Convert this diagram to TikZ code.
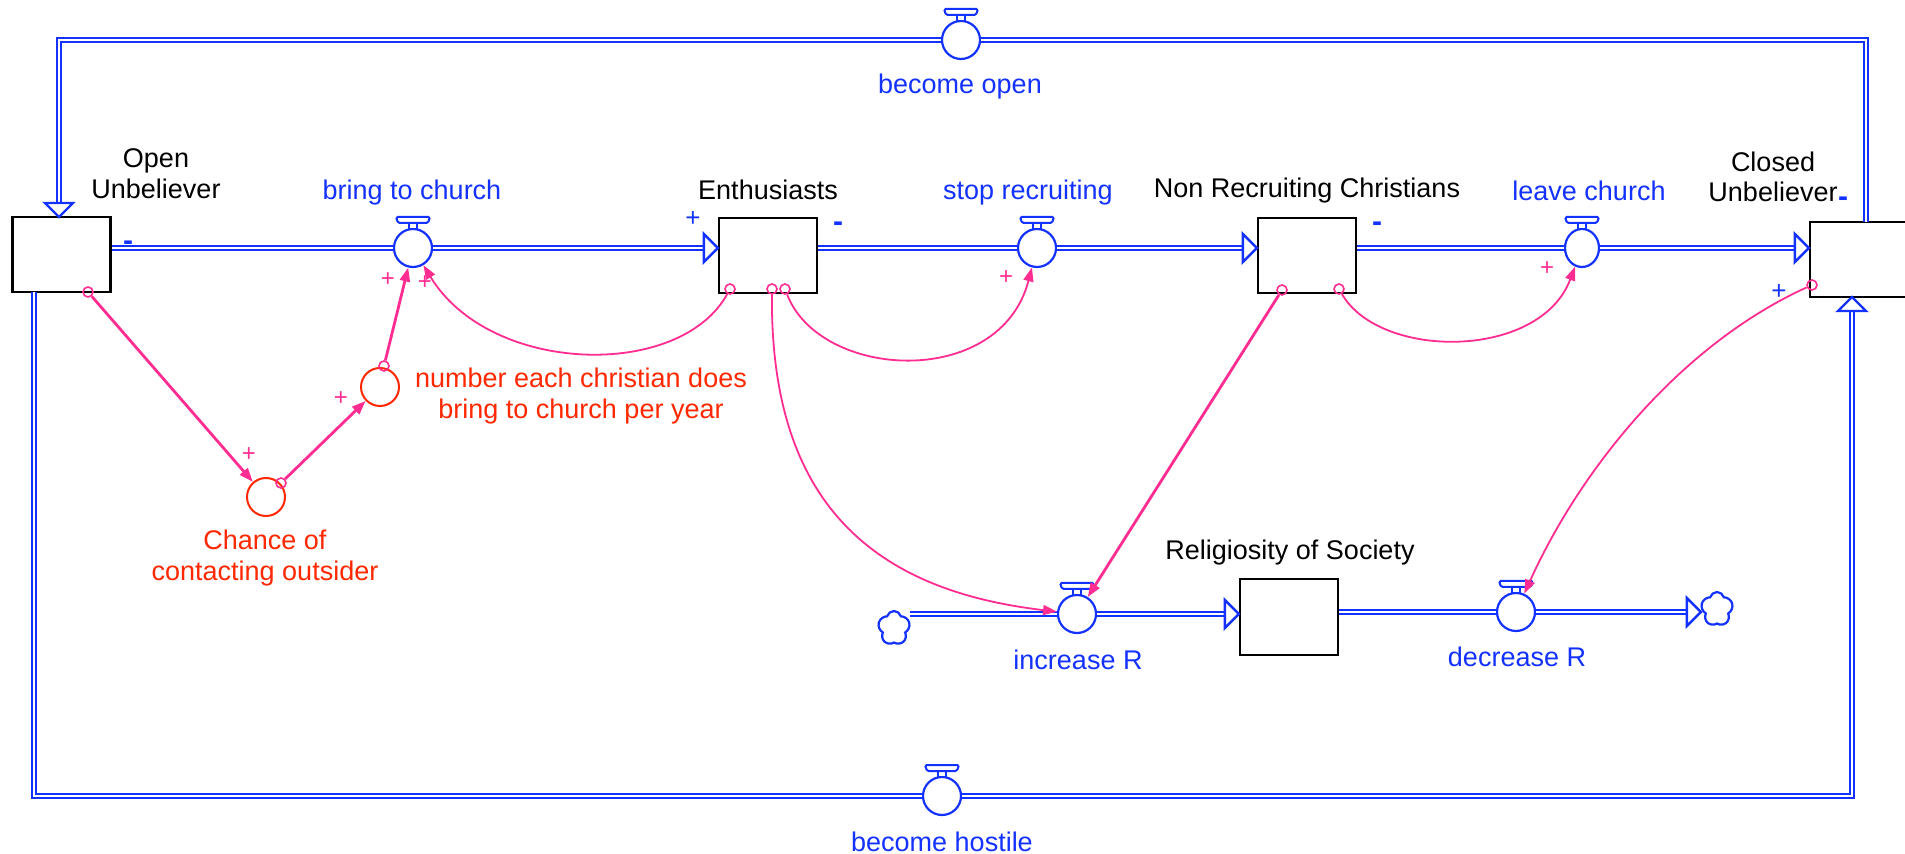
\documentclass[tikz,border=0pt]{standalone}
\usepackage{fontspec}
\setmainfont{Liberation Sans}
\usetikzlibrary{arrows.meta,shapes.geometric,shapes.symbols}
\definecolor{fblue}{RGB}{20,50,255}
\definecolor{lpink}{RGB}{255,45,145}
\definecolor{ared}{RGB}{255,40,0}
\newcommand\valvehandle[1]{%
  \draw[fblue, line width=1pt, fill=white] ([shift={(-4,-25)}]#1.center) rectangle ([shift={(4,-19)}]#1.center);
  \draw[fblue, line width=1pt, fill=white, rounded corners=0.8pt] ([shift={(-15,-25)}]#1.center) -- ([shift={(15,-25)}]#1.center) -- ([shift={(17,-31)}]#1.center) -- ([shift={(-17,-31)}]#1.center) -- cycle;
}
\begin{document}
\begin{tikzpicture}[x=0.5pt,y=-0.5pt,
  every node/.style={font=\fontsize{13.5}{15.5}\selectfont},
  stockbox/.style={draw=black, line width=1.15pt, rectangle, minimum width=49pt, minimum height=37.5pt, inner sep=0pt},
  valvec/.style={circle, draw=fblue, line width=1.1pt, fill=white, minimum size=19pt, inner sep=0pt},
  valvee/.style={ellipse, draw=fblue, line width=1.1pt, fill=white, minimum width=17pt, minimum height=19pt, inner sep=0pt},
  auxc/.style={circle, draw=ared, line width=1pt, minimum size=19pt, inner sep=0pt},
  pipe/.style={draw=fblue, line width=1.1pt, double=white, double distance=1pt},
  flowlbl/.style={text=fblue},
  stocklbl/.style={text=black, align=center},
  auxlbl/.style={text=ared, align=center},
  linkc/.style={draw=lpink, line width=0.9pt, -{Triangle[length=7pt,width=5pt]}},
  tlinkc/.style={linkc, line width=1.4pt},
  linkorig/.style={circle, draw=lpink, line width=0.8pt, minimum size=5pt, inner sep=0pt},
  lsign/.style={text=lpink, font=\fontsize{12}{12}\selectfont, inner sep=0pt},
  fsign/.style={text=fblue, font=\fontsize{13}{13}\selectfont, inner sep=0pt},
  msign/.style={text=fblue, font=\bfseries\fontsize{15}{15}\selectfont, inner sep=0pt},
  cloudnode/.style={cloud, cloud puffs=5, aspect=1, draw=fblue, line width=1.1pt, fill=white, minimum width=16pt, minimum height=17pt, inner sep=0pt},
  pipeR/.pic={\draw[fblue, line width=1.2pt, fill=white, line join=miter] (0,0) -- (-14,-14) -- (-14,14) -- cycle;},
  pipeD/.pic={\draw[fblue, line width=1.2pt, fill=white, line join=miter] (0,0) -- (-14,-14) -- (14,-14) -- cycle;},
  pipeU/.pic={\draw[fblue, line width=1.2pt, fill=white, line join=miter] (0,0) -- (-14,14) -- (14,14) -- cycle;}
]
\fill[white] (0,0) rectangle (1905,854);
\clip (0,0) rectangle (1905,854);

% stocks
\node[stockbox] (OU) at (61.5,254.5) {};
\node[stockbox] (Ent) at (768,255.5) {};
\node[stockbox] (NRC) at (1307,255.5) {};
\node[stockbox] (CU) at (1859,259.5) {};
\node[stockbox, minimum height=38pt] (RS) at (1289,617) {};

\node[stocklbl] (OUl) at (156,174) {Open\\Unbeliever};
\node[stocklbl] (Entl) at (768,190) {Enthusiasts};
\node[stocklbl] (NRCl) at (1307,191) {Non Recruiting Christians};
\node[stocklbl, font=\fontsize{13.5}{15}\selectfont] (CUl) at (1773,177) {Closed\\Unbeliever};
\node[stocklbl] (RSl) at (1290,553) {Religiosity of Society};

% valves
\node[valvec] (bc) at (413,248) {};
\node[valvec] (sr) at (1037,248) {};
\node[valvee] (lc) at (1582,248) {};
\node[valvec] (bo) at (961,40) {};
\node[valvec] (bh) at (942,796) {};
\node[valvec] (ir) at (1077,614) {};
\node[valvec] (dr) at (1516,612) {};

\node[flowlbl] (bcl) at (412,193) {bring to church};
\node[flowlbl] (srl) at (1028,193) {stop recruiting};
\node[flowlbl] (lcl) at (1589,191) {leave church};
\node[flowlbl] (bol) at (960,87) {become open};
\node[flowlbl] (bhl) at (942,842) {become hostile};
\node[flowlbl] (irl) at (1078,660) {increase R};
\node[flowlbl] (drl) at (1517,657) {decrease R};

% clouds
\node[cloudnode] (cl1) at (894,628) {};
\node[cloudnode] (cl2) at (1717,609) {};

% auxiliaries
\node[auxc] (nb) at (380,387) {};
\node[auxc] (ch) at (266,497) {};
\node[auxlbl] (nbl) at (581,396) {number each christian does\\bring to church per year};
\node[auxlbl] (chl) at (265,558) {Chance of\\contacting outsider};

% pipe end points
\coordinate (cuTop) at (1866,222);
\coordinate (cuBot) at (1852,297);
\coordinate (ouTop) at (59,217);
\coordinate (ouBot) at (34,292);

% pipes
\draw[pipe] (OU.east |- bc) -- (bc);
\draw[pipe, shorten >=7pt] (bc) -- (Ent.west |- bc);
\pic at (Ent.west |- bc) {pipeR};
\draw[pipe] (Ent.east |- sr) -- (sr);
\draw[pipe, shorten >=7pt] (sr) -- (NRC.west |- sr);
\pic at (NRC.west |- sr) {pipeR};
\draw[pipe] (NRC.east |- lc) -- (lc);
\draw[pipe, shorten >=7pt] (lc) -- (CU.west |- lc);
\pic at (CU.west |- lc) {pipeR};
\draw[pipe] (cuTop) |- (bo);
\draw[pipe, shorten >=7pt] (bo) -| (ouTop);
\pic at (ouTop) {pipeD};
\draw[pipe] (ouBot) |- (bh);
\draw[pipe, shorten >=7pt] (bh) -| (cuBot);
\pic at (cuBot) {pipeU};
\draw[pipe] (cl1.east |- ir) -- (ir);
\draw[pipe, shorten >=7pt] (ir) -- (RS.west |- ir);
\pic at (RS.west |- ir) {pipeR};
\draw[pipe] (RS.east |- dr) -- (dr);
\draw[pipe, shorten >=7pt] (dr) -- (cl2.west |- dr);
\pic at (cl2.west |- dr) {pipeR};

% valve handles
\valvehandle{bc}
\valvehandle{sr}
\valvehandle{lc}
\valvehandle{bo}
\valvehandle{bh}
\valvehandle{ir}
\valvehandle{dr}

% link origins
\node[linkorig] (o1) at (88,292) {};
\node[linkorig] (o2) at (281,483) {};
\node[linkorig] (o3) at (384,366) {};
\node[linkorig] (o4) at (730,289) {};
\node[linkorig] (o5) at (785,289) {};
\node[linkorig] (o6) at (772,289) {};
\node[linkorig] (o7) at (1282,290) {};
\node[linkorig] (o8) at (1339,289) {};
\node[linkorig] (o9) at (1812,285) {};

% links
\draw[tlinkc] (o1) -- (ch);
\draw[tlinkc] (o2) -- (nb);
\draw[tlinkc] (o3) -- (bc);
\draw[linkc] (o4) .. controls (680,380) and (490,375) .. (bc);
\draw[linkc] (o5) .. controls (820,380) and (1000,390) .. (sr);
\draw[linkc] (o6) .. controls (770,500) and (870,590) .. (ir);
\draw[tlinkc] (o7) -- (ir);
\draw[linkc] (o8) .. controls (1380,360) and (1540,360) .. (lc);
\draw[linkc] (o9) .. controls (1680,345) and (1580,470) .. (dr);

% polarity signs
\node[lsign] (p1) at (388,280) {+};
\node[lsign] (p2) at (425,283) {+};
\node[lsign] (p3) at (341,399) {+};
\node[lsign] (p4) at (249,455) {+};
\node[lsign] (p5) at (1006,278) {+};
\node[lsign] (p6) at (1547,269) {+};
\node[fsign] (f1) at (693,219) {+};
\node[fsign] (f2) at (1779,292) {+};
\node[msign] (m1) at (128,246) {-};
\node[msign] (m2) at (838,227) {-};
\node[msign] (m3) at (1377,227) {-};
\node[msign] (m4) at (1843,202) {-};
\end{tikzpicture}
\end{document}
